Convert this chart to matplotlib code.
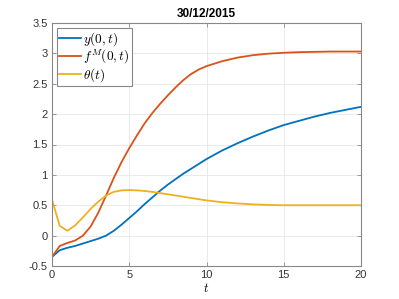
import matplotlib
matplotlib.use("Agg")
import matplotlib.pyplot as plt
import numpy as np

plt.rcParams['font.family'] = ['Liberation Sans', 'DejaVu Sans']
plt.rcParams['mathtext.fontset'] = 'cm'

t = [0, 0.5, 1, 1.5, 2, 2.5, 3, 3.5, 4, 4.5, 5, 5.5, 6, 6.5, 7, 7.5, 8, 8.5, 9, 9.5, 10, 11, 12, 13, 14, 15, 16, 17, 18, 19, 20]
y0 = [-0.35, -0.24, -0.2, -0.17, -0.13, -0.09, -0.05, 0.0, 0.08, 0.18, 0.29, 0.4, 0.52, 0.63, 0.74, 0.84, 0.93, 1.02, 1.1, 1.18, 1.26, 1.4, 1.52, 1.63, 1.73, 1.82, 1.89, 1.96, 2.02, 2.07, 2.12]
fM = [-0.35, -0.17, -0.12, -0.08, 0.0, 0.15, 0.38, 0.66, 0.95, 1.21, 1.44, 1.65, 1.85, 2.02, 2.17, 2.31, 2.44, 2.56, 2.66, 2.735, 2.79, 2.87, 2.93, 2.97, 2.995, 3.01, 3.02, 3.025, 3.03, 3.03, 3.03]
theta = [0.59, 0.16, 0.08, 0.17, 0.3, 0.44, 0.56, 0.66, 0.72, 0.745, 0.75, 0.745, 0.735, 0.72, 0.7, 0.68, 0.66, 0.64, 0.62, 0.6, 0.58, 0.55, 0.53, 0.515, 0.505, 0.5, 0.5, 0.5, 0.5, 0.5, 0.5]

labels = [r'$y(0,t)$', r'$f^M(0,t)$', r'$\theta(t)$']
colors = ['#0072BD', '#D95319', '#EDB120']

fig = plt.figure(figsize=(3.99, 2.99), dpi=100)
ax = fig.add_axes([52/399, 1-266/299, (361-52)/399, (266-23)/299])
for s, lab, c in zip([y0, fM, theta], labels, colors):
    ax.plot(t, s, color=c, lw=1.3, label=lab)

ax.set_xlim(0, 20)
ax.set_ylim(-0.5, 3.5)
ax.set_xticks([0, 5, 10, 15, 20])
ax.set_yticks([-0.5, 0, 0.5, 1, 1.5, 2, 2.5, 3, 3.5])
ax.set_yticklabels(['-0.5', '0', '0.5', '1', '1.5', '2', '2.5', '3', '3.5'])
ax.grid(True, color='#e6e6e6', lw=0.6)
ax.set_axisbelow(True)
for sp in ax.spines.values():
    sp.set_color('#888888')
    sp.set_linewidth(0.8)
ax.tick_params(direction='in', top=True, right=True, length=3, width=0.6,
               colors='#888888', labelcolor='#333333', labelsize=8, pad=3)
ax.set_title('30/12/2015', fontsize=8.5, fontweight='bold', pad=4)
ax.set_xlabel(r'$t$', fontsize=9, labelpad=1)

leg = ax.legend(loc='upper left', fontsize=9.6, fancybox=False, framealpha=1,
                edgecolor='#888888', handlelength=1.6, handletextpad=0.2,
                borderpad=0.15, labelspacing=0.0, borderaxespad=0.4)
leg.get_frame().set_linewidth(0.8)

fig.savefig('out.png', dpi=100)
